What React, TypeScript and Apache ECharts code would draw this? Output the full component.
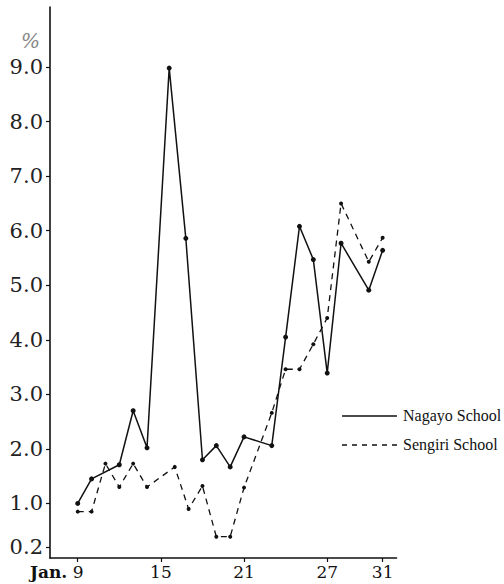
import React, { useEffect, useRef } from "react";
import * as echarts from "echarts";

// Nagayo School (solid line)
const nagayoDays = [9, 10, 12, 13, 14, 15.6, 16.8, 18, 19, 20, 21, 23, 24, 25, 26, 27, 28, 30, 31];
const nagayoValues = [1.0, 1.45, 1.71, 2.7, 2.02, 8.98, 5.86, 1.8, 2.06, 1.67, 2.22, 2.06, 4.05, 6.08, 5.47, 3.39, 5.77, 4.91, 5.64];

// Sengiri School (dashed line)
const sengiriDays = [9, 10, 11, 12, 13, 14, 16, 17, 18, 19, 20, 21, 23, 24, 25, 26, 27, 28, 30, 31];
const sengiriValues = [0.85, 0.85, 1.73, 1.3, 1.73, 1.3, 1.67, 0.9, 1.32, 0.39, 0.39, 1.29, 2.66, 3.46, 3.46, 3.92, 4.4, 6.5, 5.43, 5.87];

const xTickValues = [9, 15, 21, 27, 31];
const yTickValues = [0.2, 1, 2, 3, 4, 5, 6, 7, 8, 9];

const seriesNames = ["Nagayo School", "Sengiri School"];

export default function App() {
  const ref = useRef<HTMLDivElement>(null);

  useEffect(() => {
    if (!ref.current) return;
    const chart = echarts.init(ref.current, null, { renderer: "svg" });
    const ink = "#111";
    const option = {
      animation: false,
      backgroundColor: "#ffffff",
      grid: { left: 50, right: 107.5, top: 7, bottom: 26, containLabel: false },
      xAxis: {
        type: "value",
        min: 7,
        max: 32,
        axisLine: { show: true, lineStyle: { color: ink, width: 1.6 } },
        splitLine: { show: false },
        axisTick: { show: true, customValues: xTickValues, length: 4, lineStyle: { color: ink, width: 1.2 } },
        axisLabel: {
          customValues: xTickValues,
          margin: 5,
          fontFamily: "DejaVu Serif",
          fontSize: 17,
          color: ink,
          formatter: (v: number) => (v === 9 ? "{j|Jan.}{d| 9}{p|}" : String(v)),
          rich: {
            j: { fontFamily: "DejaVu Serif", fontSize: 17, fontWeight: "bold", color: ink },
            d: { fontFamily: "DejaVu Serif", fontSize: 17, color: ink },
            p: { width: 42 },
          },
        },
      },
      yAxis: {
        type: "value",
        min: 0,
        max: 10.1,
        axisLine: { show: true, lineStyle: { color: ink, width: 1.6 } },
        splitLine: { show: false },
        axisTick: { show: true, customValues: yTickValues, length: 4, lineStyle: { color: ink, width: 1.2 } },
        axisLabel: {
          customValues: yTickValues,
          margin: 7,
          fontFamily: "DejaVu Serif",
          fontSize: 21,
          color: "#222",
          formatter: (v: number) => v.toFixed(1),
        },
      },
      series: [
        {
          name: seriesNames[0],
          type: "line",
          data: nagayoDays.map((d, i) => [d, nagayoValues[i]]),
          symbol: "circle",
          symbolSize: 5,
          itemStyle: { color: ink },
          lineStyle: { color: ink, width: 1.5, type: "solid" },
        },
        {
          name: seriesNames[1],
          type: "line",
          data: sengiriDays.map((d, i) => [d, sengiriValues[i]]),
          symbol: "circle",
          symbolSize: 4,
          itemStyle: { color: ink },
          lineStyle: { color: ink, width: 1.3, type: [6, 5] },
        },
      ],
      graphic: [
        {
          type: "text",
          left: 21,
          top: 31,
          style: { text: "%", fontFamily: "DejaVu Serif", fontStyle: "italic", fontSize: 20, fill: "#888" },
        },
        {
          type: "line",
          shape: { x1: 342, y1: 416, x2: 397, y2: 416 },
          style: { stroke: ink, lineWidth: 1.5 },
        },
        {
          type: "text",
          x: 403,
          y: 415,
          style: { text: seriesNames[0], fontFamily: "Liberation Serif", fontSize: 16, fill: ink, verticalAlign: "middle" },
        },
        {
          type: "line",
          shape: { x1: 342, y1: 445, x2: 400, y2: 445 },
          style: { stroke: ink, lineWidth: 1.3, lineDash: [5, 5] },
        },
        {
          type: "text",
          x: 403,
          y: 444,
          style: { text: seriesNames[1], fontFamily: "Liberation Serif", fontSize: 16, fill: ink, verticalAlign: "middle" },
        },
      ],
    };
    chart.setOption(option);
    return () => chart.dispose();
  }, []);

  return (
    <div
      ref={ref}
      style={{ position: "fixed", left: 0, top: 0, width: 504, height: 584, background: "#fff" }}
    />
  );
}
